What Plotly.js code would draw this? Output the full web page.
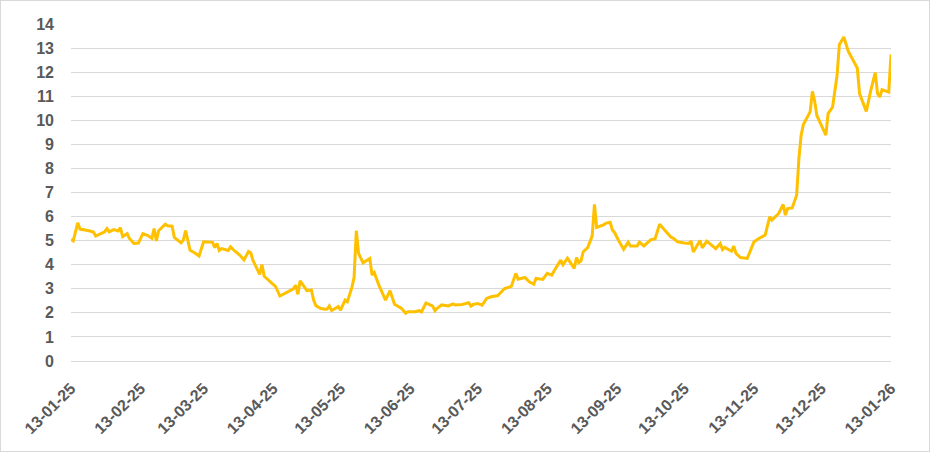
<!DOCTYPE html>
<html>
<head>
<meta charset="utf-8">
<script src="https://cdn.plot.ly/plotly-3.0.1.min.js"></script>
<style>
  html, body { margin: 0; padding: 0; background: #fff; }
  #wrap { position: relative; width: 930px; height: 452px; }
  #chart { width: 930px; height: 452px; }
  #frame { position: absolute; left: 0; top: 0; width: 928px; height: 450px; border: 1px solid #d9d9d9; pointer-events: none; }
</style>
</head>
<body>
<div id="wrap"><div id="chart"></div><div id="frame"></div></div>
<script>
const dates = [
  "2025-01-13","2025-01-14","2025-01-16","2025-01-17","2025-01-21","2025-01-23","2025-01-24","2025-01-27","2025-01-28","2025-01-29",
  "2025-01-30","2025-02-01","2025-02-03","2025-02-04","2025-02-05","2025-02-07","2025-02-08","2025-02-10","2025-02-12","2025-02-14",
  "2025-02-16","2025-02-18","2025-02-19","2025-02-20","2025-02-21","2025-02-24","2025-02-25","2025-02-27","2025-02-28","2025-03-03",
  "2025-03-04","2025-03-05","2025-03-07","2025-03-09","2025-03-11","2025-03-13","2025-03-14","2025-03-17","2025-03-18","2025-03-19",
  "2025-03-20","2025-03-21","2025-03-24","2025-03-25","2025-03-27","2025-03-29","2025-03-31","2025-04-02","2025-04-03","2025-04-04",
  "2025-04-07","2025-04-08","2025-04-09","2025-04-12","2025-04-14","2025-04-16","2025-04-19","2025-04-22","2025-04-23","2025-04-24",
  "2025-04-25","2025-04-28","2025-04-30","2025-05-01","2025-05-02","2025-05-04","2025-05-06","2025-05-07","2025-05-08","2025-05-09",
  "2025-05-12","2025-05-13","2025-05-15","2025-05-16","2025-05-18","2025-05-19","2025-05-20","2025-05-21","2025-05-23","2025-05-26",
  "2025-05-27","2025-05-28","2025-05-30","2025-06-02","2025-06-04","2025-06-06","2025-06-09","2025-06-11","2025-06-12","2025-06-15",
  "2025-06-17","2025-06-18","2025-06-20","2025-06-23","2025-06-24","2025-06-25","2025-06-27","2025-06-30","2025-07-02","2025-07-03",
  "2025-07-06","2025-07-07","2025-07-09","2025-07-10","2025-07-11","2025-07-13","2025-07-15","2025-07-17","2025-07-19","2025-07-22",
  "2025-07-24","2025-07-25","2025-07-28","2025-07-30","2025-07-31","2025-08-03","2025-08-05","2025-08-07","2025-08-08","2025-08-11",
  "2025-08-13","2025-08-15","2025-08-17","2025-08-19","2025-08-20","2025-08-22","2025-08-25","2025-08-26","2025-08-27","2025-08-28",
  "2025-08-29","2025-08-31","2025-09-02","2025-09-03","2025-09-04","2025-09-07","2025-09-08","2025-09-10","2025-09-11","2025-09-12",
  "2025-09-14","2025-09-16","2025-09-18","2025-09-19","2025-09-22","2025-09-23","2025-09-25","2025-09-28","2025-09-30","2025-10-02",
  "2025-10-04","2025-10-07","2025-10-08","2025-10-10","2025-10-13","2025-10-15","2025-10-16","2025-10-17","2025-10-20","2025-10-21",
  "2025-10-23","2025-10-27","2025-10-29","2025-10-30","2025-10-31","2025-11-03","2025-11-04","2025-11-05","2025-11-07","2025-11-10",
  "2025-11-13","2025-11-15","2025-11-18","2025-11-20","2025-11-21","2025-11-24","2025-11-26","2025-11-27","2025-11-28","2025-11-30",
  "2025-12-02","2025-12-03","2025-12-04","2025-12-05","2025-12-08","2025-12-09","2025-12-10","2025-12-11","2025-12-15","2025-12-16",
  "2025-12-18","2025-12-20","2025-12-21","2025-12-23","2025-12-25","2025-12-29","2025-12-30","2026-01-02","2026-01-04","2026-01-06",
  "2026-01-07","2026-01-08","2026-01-09","2026-01-12","2026-01-13"
];
const values = [
  5.05,4.99,5.74,5.48,5.41,5.36,5.19,5.30,5.37,5.50,
  5.37,5.46,5.40,5.54,5.17,5.29,5.09,4.88,4.90,5.29,
  5.22,5.10,5.50,4.99,5.41,5.68,5.62,5.60,5.13,4.91,
  5.02,5.42,4.60,4.50,4.36,4.95,4.95,4.93,4.71,4.88,
  4.59,4.67,4.59,4.74,4.56,4.41,4.20,4.55,4.50,4.18,
  3.60,4.01,3.52,3.28,3.10,2.70,2.84,3.00,3.15,2.77,
  3.33,2.92,2.95,2.53,2.30,2.19,2.15,2.16,2.29,2.10,
  2.26,2.11,2.53,2.46,3.05,3.47,5.41,4.47,4.08,4.26,
  3.57,3.67,3.16,2.53,2.92,2.36,2.19,1.98,2.05,2.05,
  2.09,2.04,2.41,2.28,2.09,2.19,2.33,2.29,2.37,2.33,
  2.35,2.37,2.42,2.28,2.35,2.39,2.32,2.60,2.67,2.72,
  2.90,3.01,3.10,3.64,3.40,3.47,3.29,3.19,3.43,3.39,
  3.64,3.57,3.89,4.19,4.00,4.27,3.85,4.30,4.09,4.16,
  4.54,4.71,5.20,6.51,5.55,5.65,5.72,5.76,5.44,5.33,
  4.96,4.64,4.94,4.78,4.78,4.94,4.78,5.03,5.08,5.68,
  5.46,5.15,5.11,4.95,4.90,4.88,4.98,4.53,5.01,4.70,
  4.98,4.67,4.88,4.63,4.72,4.56,4.77,4.47,4.30,4.26,
  4.95,5.08,5.23,5.99,5.85,6.13,6.50,6.06,6.33,6.36,
  6.89,8.41,9.38,9.82,10.35,11.20,10.80,10.20,9.38,10.28,
  10.55,11.87,13.14,13.46,12.86,12.17,11.11,10.37,11.24,11.98,
  11.11,10.97,11.27,11.17,12.73
];
const tickDates = ["2025-01-13","2025-02-13","2025-03-13","2025-04-13","2025-05-13","2025-06-13","2025-07-13",
  "2025-08-13","2025-09-13","2025-10-13","2025-11-13","2025-12-13","2026-01-13"];
const tickLabels = ["13-01-25","13-02-25","13-03-25","13-04-25","13-05-25","13-06-25","13-07-25",
  "13-08-25","13-09-25","13-10-25","13-11-25","13-12-25","13-01-26"];
const yTicks = [0,1,2,3,4,5,6,7,8,9,10,11,12,13,14];

const trace = {
  x: dates, y: values, type: 'scatter', mode: 'lines',
  line: { color: '#FFC000', width: 3 },
  hoverinfo: 'skip'
};
const layout = {
  width: 930, height: 452,
  margin: { l: 71, r: 39, t: 24, b: 91, pad: 0 },
  paper_bgcolor: '#ffffff', plot_bgcolor: '#ffffff',
  showlegend: false,
  font: { family: '"Liberation Sans", Arial, sans-serif', color: '#595959', size: 16 },
  xaxis: {
    type: 'date',
    range: ['2025-01-13', '2026-01-13'],
    tickmode: 'array', tickvals: tickDates, ticktext: tickLabels,
    tickangle: -45,
    showgrid: false, zeroline: false, showline: false,
    ticks: '', ticklabelstandoff: 14,
    tickfont: { size: 16, color: '#595959', weight: 'bold' }
  },
  yaxis: {
    range: [0, 14],
    tickmode: 'array', tickvals: yTicks,
    showgrid: true, gridcolor: '#d9d9d9', gridwidth: 1,
    zeroline: true, zerolinecolor: '#d9d9d9', zerolinewidth: 1,
    showline: false, ticks: '', ticklabelstandoff: 16,
    tickfont: { size: 16, color: '#595959', weight: 'bold' }
  }
};
Plotly.newPlot('chart', [trace], layout, { staticPlot: true, displayModeBar: false });
</script>
</body>
</html>
